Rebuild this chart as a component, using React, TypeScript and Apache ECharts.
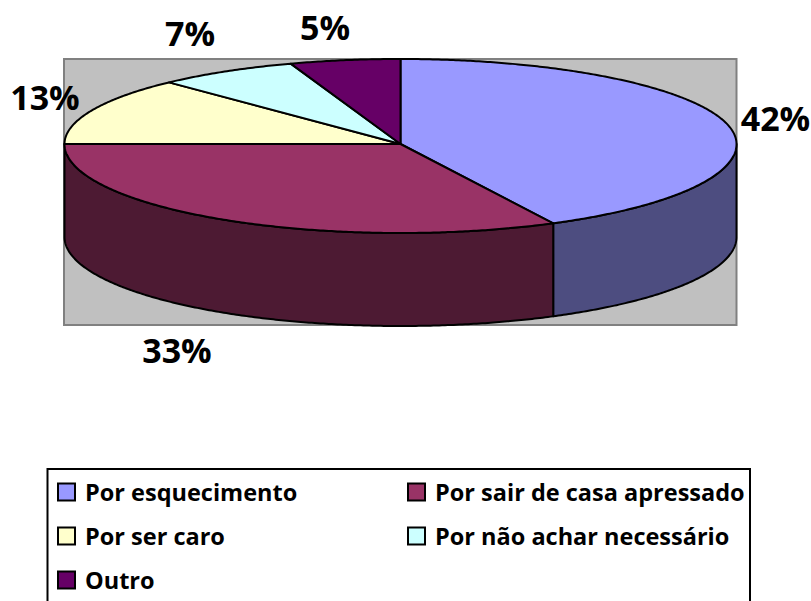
import React, { useEffect, useRef } from "react";
import * as echarts from "echarts";

const categories = [
  "Por esquecimento",
  "Por sair de casa apressado",
  "Por ser caro",
  "Por não achar necessário",
  "Outro",
];
const values = [42.49, 32.51, 12.9, 6.8, 5.3];
const topColors = ["#9999FF", "#993366", "#FFFFCC", "#CCFFFF", "#660066"];
const wallColors = ["#4D4D80", "#4D1A33", "#808066", "#668080", "#330033"];
const labelCenters = [
  [775.5, 118],
  [177, 350],
  [45, 97],
  [190, 33],
  [325, 27],
];
const legendSpots = [
  [57, 480],
  [407, 480],
  [57, 524],
  [407, 524],
  [57, 568],
];

const CX = 400.5;
const CY = 144;
const RX = 336;
const RY_BACK = 85;
const RY_FRONT = 89;
const DEPTH = 93;
const FONT = "'Open Sans', sans-serif";

const pt = (deg: number, dy = 0): number[] => {
  const a = (deg * Math.PI) / 180;
  const c = Math.cos(a);
  return [CX + RX * Math.sin(a), CY + dy - (c > 0 ? RY_BACK : RY_FRONT) * c];
};

const arc = (from: number, to: number, dy = 0): number[][] => {
  const out: number[][] = [];
  const n = Math.max(2, Math.ceil(Math.abs(to - from) * 2));
  for (let i = 0; i <= n; i++) out.push(pt(from + ((to - from) * i) / n, dy));
  return out;
};

const total = values.reduce((s, v) => s + v, 0);
const sliceRange = (idx: number): [number, number] => {
  let sum = 0;
  for (let i = 0; i < idx; i++) sum += values[i];
  return [(sum / total) * 360, ((sum + values[idx]) / total) * 360];
};

const line = { stroke: "#000", lineWidth: 2, lineJoin: "round" as const };

const makeRender = (idx: number) => (_params: any, api: any) => {
  const [start, end] = sliceRange(idx);
  const children: any[] = [];
  const wStart = Math.max(start, 90);
  const wEnd = Math.min(end, 270);
  if (wEnd > wStart) {
    children.push({
      type: "polygon",
      shape: { points: [...arc(wStart, wEnd), ...arc(wEnd, wStart, DEPTH)] },
      style: { fill: wallColors[idx], ...line },
    });
  }
  children.push({
    type: "polygon",
    shape: { points: [[CX, CY], ...arc(start, end)] },
    style: { fill: topColors[idx], ...line },
  });
  children.push({
    type: "text",
    z2: 50,
    style: {
      text: `${Math.round(api.value(0))}%`,
      x: labelCenters[idx][0],
      y: labelCenters[idx][1],
      align: "center",
      verticalAlign: "middle",
      fill: "#000",
      font: `bold 34px ${FONT}`,
    },
  });
  return { type: "group", children };
};

export default function App() {
  const ref = useRef<HTMLDivElement>(null);
  useEffect(() => {
    const chart = echarts.init(ref.current!, undefined, { renderer: "svg" });
    chart.setOption({
      animation: false,
      backgroundColor: "#fff",
      graphic: [
        {
          type: "rect",
          z: 0,
          shape: { x: 64, y: 59, width: 672.5, height: 266 },
          style: { fill: "#C0C0C0", stroke: "#808080", lineWidth: 2 },
        },
        {
          type: "rect",
          z: 0,
          shape: { x: 47.5, y: 469, width: 702.5, height: 150 },
          style: { fill: "#fff", stroke: "#000", lineWidth: 2 },
        },
      ],
      legend: categories.map((name, i) => ({
        data: [name],
        left: legendSpots[i][0],
        top: legendSpots[i][1],
        padding: 0,
        itemWidth: 17,
        itemHeight: 17,
        itemGap: 0,
        icon: "rect",
        selectedMode: false,
        itemStyle: { borderColor: "#000", borderWidth: 2 },
        textStyle: {
          color: "#000",
          fontFamily: FONT,
          fontWeight: "bold",
          fontSize: 23.5,
          padding: [0, 0, 0, 5],
        },
      })),
      series: categories.map((name, i) => ({
        type: "custom",
        name,
        coordinateSystem: "none",
        itemStyle: { color: topColors[i] },
        data: [[values[i]]],
        renderItem: makeRender(i),
      })),
    });
    return () => chart.dispose();
  }, []);
  return (
    <div
      ref={ref}
      style={{ position: "fixed", left: 0, top: 0, width: 811, height: 601, overflow: "hidden" }}
    />
  );
}
